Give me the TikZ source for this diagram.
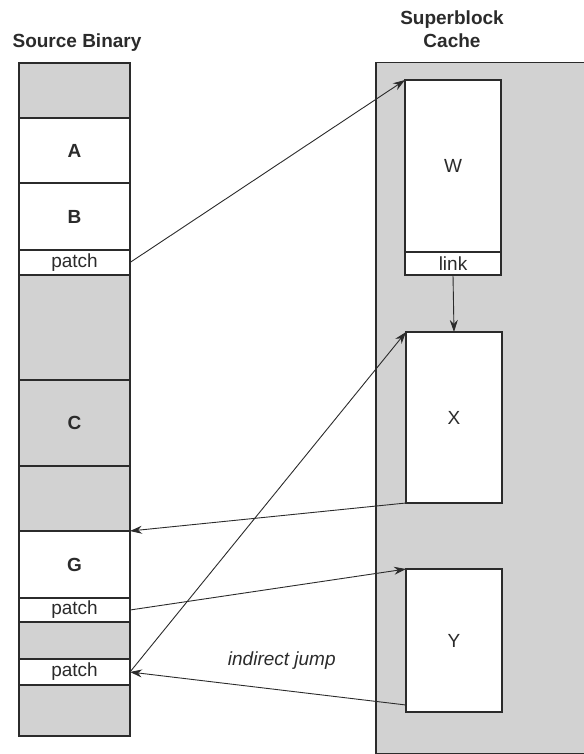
\documentclass[tikz,border=0pt]{standalone}
\usepackage{fontspec}
\setmainfont{Liberation Sans}
\usepackage{xcolor}
\usepackage{tikz}
\usetikzlibrary{arrows.meta, positioning}

\definecolor{ink}{HTML}{2B2B2B}
\definecolor{shade}{HTML}{D2D2D2}

\begin{document}
\begin{tikzpicture}[x=1pt, y=-1pt, font=\fontsize{19}{22}\selectfont, text=ink,
  seg/.style={draw=ink, line width=1.4pt, fill=white, minimum width=111pt, inner sep=0pt, outer sep=0pt},
  gap/.style={seg, fill=shade},
  blk/.style={draw=ink, line width=1.5pt, fill=white, minimum width=96pt, inner sep=0pt, outer sep=0pt},
  arr/.style={draw=ink, line width=0.9pt, -{Stealth[length=12pt, width=8pt]}}]
  \useasboundingbox (0,0) rectangle (583,754);

  % source binary column
  \node[font=\fontsize{19}{22}\selectfont\bfseries] (srctitle) at (77,43) {Source Binary};
  \node[gap, anchor=north west, minimum height=55pt] (s0) at (19,63) {};
  \node[seg, minimum height=65pt, below=0pt of s0] (a) {\bfseries A};
  \node[seg, minimum height=67pt, below=0pt of a] (b) {\bfseries B};
  \node[seg, minimum height=25pt, below=0pt of b] (p1) {patch};
  \node[gap, minimum height=105pt, below=0pt of p1] (s1) {};
  \node[gap, minimum height=86pt, below=0pt of s1] (c) {\bfseries C};
  \node[gap, minimum height=65pt, below=0pt of c] (s2) {};
  \node[seg, minimum height=67pt, below=0pt of s2] (g) {\bfseries G};
  \node[seg, minimum height=24pt, below=0pt of g] (p2) {patch};
  \node[gap, minimum height=37pt, below=0pt of p2] (s3) {};
  \node[seg, minimum height=26pt, below=0pt of s3] (p3) {patch};
  \node[gap, minimum height=51pt, below=0pt of p3] (s4) {};

  % superblock cache
  \node[font=\fontsize{19}{23}\selectfont\bfseries, align=center] (cachetitle) at (452,29) {Superblock\\Cache};
  \node[draw=ink, line width=1.5pt, fill=shade, anchor=north west, minimum width=212pt,
        minimum height=691pt, inner sep=0pt] (cache) at (375,62) {};
  \node[blk, anchor=north west, minimum height=172pt] (w) at (405,80) {W};
  \node[blk, minimum height=23pt, below=0pt of w] (link) {link};
  \node[blk, anchor=north west, minimum height=171pt] (x) at (406,332) {X};
  \node[blk, anchor=north west, minimum height=143pt] (y) at (406,569) {Y};

  \draw[arr] (p1.east) -- (w.north west);
  \draw[arr] (link.south) -- (x.north);
  \draw[arr] (x.south west) -- (s2.south east);
  \draw[arr] (p2.east) -- (y.north west);
  \draw[arr] ([yshift=7pt]y.south west) -- (p3.east)
       node[pos=0.45, above=17pt, font=\fontsize{19}{22}\selectfont\itshape] {indirect jump};
  \draw[arr] (p3.east) -- (x.north west);
\end{tikzpicture}
\end{document}
